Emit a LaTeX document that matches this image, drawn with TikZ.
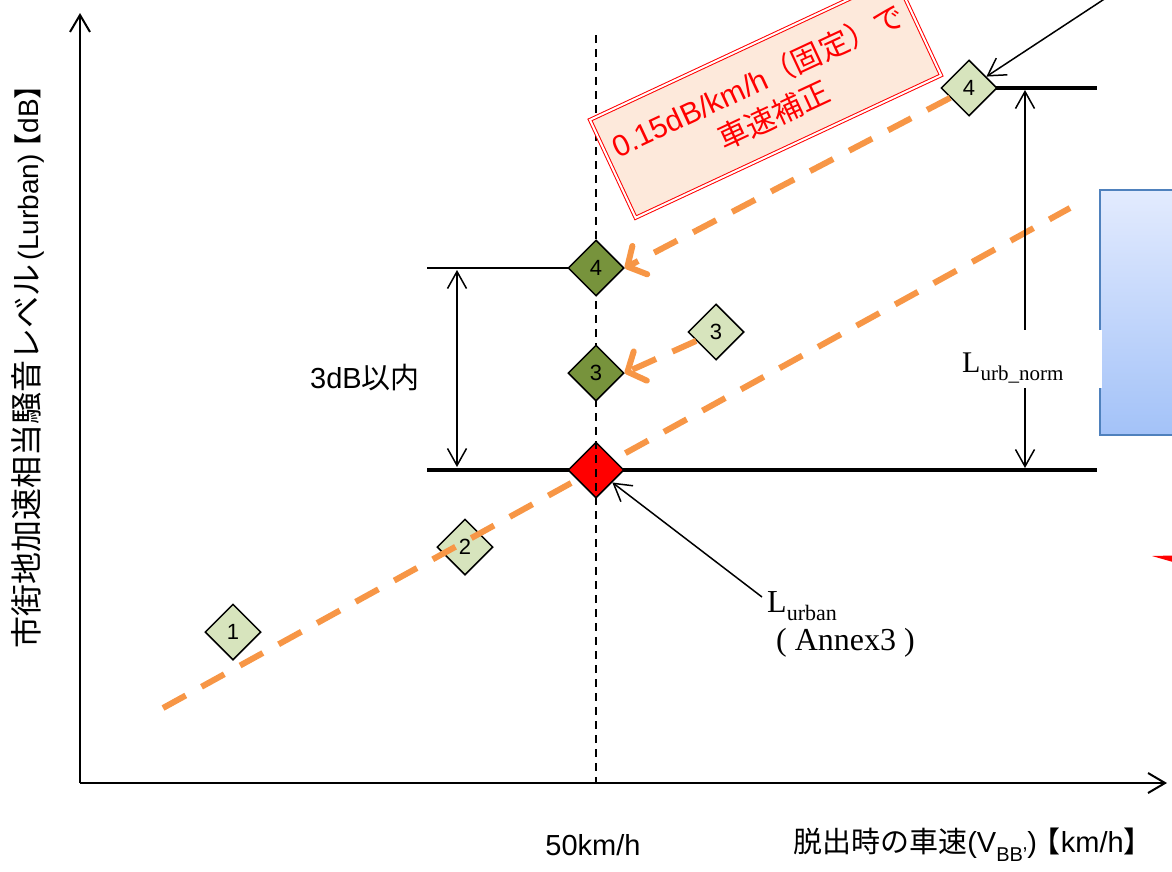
\documentclass[tikz,border=0pt]{standalone}
\usepackage{fontspec}
\setmainfont{Liberation Sans}
\newfontfamily\jp{Noto Sans CJK JP}
\newfontfamily\tms{Liberation Serif}
\usetikzlibrary{arrows.meta,shapes.geometric}
\definecolor{orng}{HTML}{F79646}
\definecolor{lgreen}{HTML}{D7E4BD}
\definecolor{dgreen}{HTML}{77933C}
\definecolor{peach}{HTML}{FDE9DB}
\definecolor{blueb}{HTML}{4F81BD}
\definecolor{bluetop}{HTML}{E3EBFE}
\definecolor{bluebot}{HTML}{A3C2F8}
\begin{document}
\begin{tikzpicture}[x=1pt,y=-1pt,
  axis/.style={line width=2pt,-{Straight Barb[length=17pt,width=20pt]}},
  dim/.style={line width=1.5pt,{Straight Barb[length=17pt,width=19pt]}-{Straight Barb[length=17pt,width=19pt]}},
  ptr/.style={line width=1.5pt,-{Straight Barb[length=17pt,width=20pt]}},
  oline/.style={draw=orng,line width=6pt,dash pattern=on 26pt off 18pt},
  oarrow/.style={oline,-{Straight Barb[length=14pt,width=32pt,round]}},
  dia/.style={diamond,draw,line width=1.5pt,minimum width=56pt,minimum height=56pt,inner sep=0pt,font=\fontsize{22}{22}\selectfont},
  light/.style={dia,fill=lgreen},
  dark/.style={dia,fill=dgreen},
  big/.style={font=\fontsize{29}{34}\selectfont},
  serif/.style={font=\tms\fontsize{32}{38}\selectfont}
]
\useasboundingbox (0,0) rectangle (1172,871);
\clip (0,0) rectangle (1172,871);

% axes
\coordinate (O) at (80,783);
\coordinate (Ytop) at (80,13);
\coordinate (Xend) at (1167,783);
\draw[axis] (O) -- (Ytop);
\draw[axis] (O) -- (Xend);

% blue box and red fragment
\draw[draw=blueb,line width=2pt,top color=bluetop,bottom color=bluebot] (1100,190) rectangle (1190,435);
\fill[red] (1152,556) -- (1173,555.5) -- (1173,562) -- cycle;

% horizontal reference lines
\coordinate (h0L) at (427,470);
\coordinate (h0R) at (1097,470);
\coordinate (h4L) at (427,268);
\coordinate (h4R) at (596,268);
\coordinate (hNL) at (990,88);
\coordinate (hNR) at (1097,88);
\draw[line width=4pt] (h0L) -- (h0R);
\draw[line width=1.6pt] (h4L) -- (h4R);
\draw[line width=4pt] (hNL) -- (hNR);

% diamond 2 (under orange line)
\node[light] (L2) at (465,547) {2};

% main orange trend line
\coordinate (oA) at (163,708);
\coordinate (oB) at (1070,208);
\draw[oline] (oA) -- (oB);

\node[light] (L1) at (233,632) {1};
\node[dia,fill=red] (R) at (596,470) {};

% vertical dashed line at 50 km/h
\coordinate (vT) at (596,35);
\coordinate (vB) at (596,783);
\draw[line width=1.5pt,dash pattern=on 8pt off 6pt] (vT) -- (vB);

\node[dark] (D4) at (596,268) {4};
\node[dark] (D3) at (596,373) {3};
\node[light] (L3) at (716,332) {3};
\node[light] (L4) at (969,88) {4};

% orange correction arrows
\draw[oarrow] (L4) -- (D4.east);
\draw[oarrow] (L3) -- (D3.east);

% 3 dB dimension
\coordinate (d3T) at (457,270);
\coordinate (d3B) at (457,467);
\draw[dim] (d3T) -- (d3B);
\node[big,anchor=center] (t3) at (365,378) {3dB{\jp 以内}};

% L_urb_norm dimension
\coordinate (dnT) at (1025,90);
\coordinate (dnB) at (1025,468);
\draw[dim] (dnT) -- (dnB);
\fill[white] (955,330) rectangle (1102,388);
\node[font=\tms\fontsize{30}{36}\selectfont,anchor=base west,inner sep=0pt] (Ln) at (962,372) {L\raisebox{-0.28em}{\fontsize{21}{21}\selectfont urb\_norm}};

% L_urban label and pointer
\node[serif,anchor=base west,inner sep=0pt] (Lu1) at (767,612) {L\raisebox{-0.28em}{\fontsize{22}{22}\selectfont urban}};
\node[serif,anchor=base west,inner sep=0pt] (Lu2) at (776,650) {( Annex3 )};
\coordinate (pLu) at (762,597);
\draw[ptr] (pLu) -- (R);

% pointer from top right
\coordinate (pTR) at (1112,-6);
\draw[ptr] (pTR) -- (L4);

% rotated note box
\node[rotate=25,draw=red,line width=1pt,double=white,double distance=2pt,fill=peach,
      minimum width=337pt,minimum height=108pt,align=center,text=red,
      font=\fontsize{30}{38}\selectfont] (note) at (765.5,97.6)
  {0.15dB/km/h{\jp （固定）で}\\{\jp 車速補正}};

% axis labels
\node[font=\fontsize{28}{34}\selectfont,rotate=90] (ylab) at (28,366)
  {{\jp\fontsize{32}{34}\selectfont 市街地加速相当騒音レベル}\,(Lurban)\,{\jp\kern-12pt【}dB{\jp 】\kern-12pt}};
\node[big] (xlab) at (968,845) {{\jp 脱出時の車速}(V\raisebox{-0.3em}{\fontsize{20}{20}\selectfont BB'})\,{\jp\kern-10pt【}km/h{\jp 】\kern-10pt}};
\node[big] (x50) at (593,845) {50km/h};
\end{tikzpicture}
\end{document}
